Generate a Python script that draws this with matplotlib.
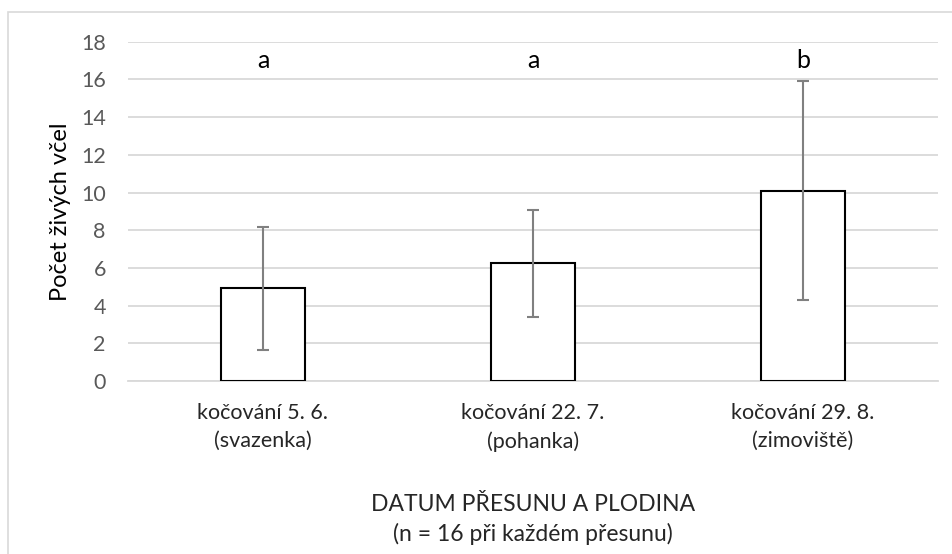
import numpy as np
import matplotlib.pyplot as plt
from matplotlib.patches import Rectangle

plt.rcParams['font.family'] = ['Lato', 'DejaVu Sans']

# data
kategorie = ['kočování 5. 6.\n(svazenka)', 'kočování 22. 7.\n(pohanka)', 'kočování 29. 8.\n(zimoviště)']
prumer = [4.92, 6.25, 10.1]
chyba = [3.25, 2.83, 5.82]
pismena = ['a', 'a', 'b']

fig = plt.figure(figsize=(9.53, 5.54), dpi=100)
ax = fig.add_axes([0.1343, 0.3123, 0.85, 0.6124])

# ramecek grafu
fig.patches.append(Rectangle((8 / 953, -0.1), 1.2, 1 - 12 / 554 + 0.1, transform=fig.transFigure,
                             fill=False, edgecolor='#d9d9d9', linewidth=1.2))

x = np.arange(len(kategorie))
ax.bar(x, prumer, width=0.31, color='white', edgecolor='black', linewidth=1.5, zorder=3)
ax.errorbar(x, prumer, yerr=chyba, fmt='none', ecolor='#808080', elinewidth=1.5,
            capsize=4, capthick=1.5, zorder=4)

for xi, p in zip(x, pismena):
    ax.text(xi, 17.0, p, ha='center', va='center', fontsize=18, color='black')

ax.set_xlim(-0.5, 2.5)
ax.set_ylim(0, 18)
ax.set_yticks(np.arange(0, 19, 2))
ax.set_xticks(x)
ax.set_xticklabels(kategorie, fontsize=15.5, color='#262626', linespacing=1.5)
ax.tick_params(axis='y', labelsize=15.5, labelcolor='#595959', length=0, pad=16)
ax.tick_params(axis='x', length=0, pad=16)
ax.grid(axis='y', color='#d9d9d9', linewidth=1.3, zorder=0)
ax.set_axisbelow(True)
for s in ['top', 'right', 'left']:
    ax.spines[s].set_visible(False)
ax.spines['bottom'].set_color('#d9d9d9')
ax.spines['bottom'].set_linewidth(1.3)

ax.set_ylabel('Počet živých včel', fontsize=17, color='black', labelpad=7)
ax.set_xlabel('DATUM PŘESUNU A PLODINA\n(n = 16 při každém přesunu)', fontsize=16.5,
              color='#262626', labelpad=30, linespacing=1.45)

fig.savefig('out.png', dpi=100)
